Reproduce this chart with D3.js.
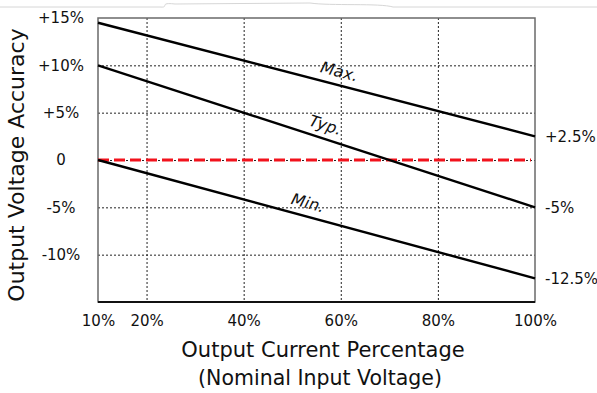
<!DOCTYPE html>
<html>
<head>
<meta charset="utf-8">
<script src="https://cdn.jsdelivr.net/npm/d3@7"></script>
<style>
  html, body { margin: 0; padding: 0; background: #fff; }
  svg { display: block; }
  text { font-family: "DejaVu Sans", sans-serif; fill: #111; }
</style>
</head>
<body>
<svg id="chart" width="597" height="393"></svg>
<script>
// Output current (% of rated) at the chart edges and grid positions
const currentDomain = [10, 100];
const xTicks = [10, 20, 40, 60, 80, 100];
const xTickLabels = ["10%", "20%", "40%", "60%", "80%", "100%"];

// Output voltage accuracy (%)
const accuracyDomain = [-15, 15];
const yTicks = [15, 10, 5, 0, -5, -10];
const yTickLabels = ["+15%", "+10%", "+5%", "0", "-5%", "-10%"];
const yGrid = [10, 5, 0, -5, -10];
const xGrid = [20, 40, 60, 80];

// Accuracy band: endpoints at 10% and 100% load
const seriesNames = ["Max.", "Typ.", "Min."];
const seriesStart = [14.5, 10, 0];
const seriesEnd = [2.5, -5, -12.5];
const endLabels = ["+2.5%", "-5%", "-12.5%"];
const labelAt = [59, 56, 52.5];     // load (%) where each curve name sits

const svg = d3.select("#chart");
const m = { left: 98, right: 535, top: 18, bottom: 302 };

const x = d3.scaleLinear().domain(currentDomain).range([m.left, m.right]);
const y = d3.scaleLinear().domain(accuracyDomain).range([m.bottom, m.top]);

// faint scan-edge line along the top
svg.append("path")
  .attr("d", "M0,7 L160,7 C170,8 158,2 175,4 L310,3 C330,6 380,3 393,7 L597,7")
  .attr("fill", "none").attr("stroke", "#d6d6d6").attr("stroke-width", 1);

// dotted grid
const grid = svg.append("g").attr("stroke", "#222").attr("stroke-width", 1)
  .attr("stroke-dasharray", "2,2");
grid.selectAll("line.h").data(yGrid).join("line").attr("class", "h")
  .attr("x1", m.left).attr("x2", m.right)
  .attr("y1", d => y(d) + 0.5).attr("y2", d => y(d) + 0.5);
grid.selectAll("line.v").data(xGrid).join("line").attr("class", "v")
  .attr("y1", m.top).attr("y2", m.bottom)
  .attr("x1", d => x(d) + 0.5).attr("x2", d => x(d) + 0.5);

// plot frame
svg.append("rect")
  .attr("x", m.left).attr("y", m.top)
  .attr("width", m.right - m.left).attr("height", m.bottom - m.top)
  .attr("fill", "none").attr("stroke", "#6a6a6a").attr("stroke-width", 1.5);
svg.append("line")
  .attr("x1", m.left).attr("x2", m.right)
  .attr("y1", m.bottom).attr("y2", m.bottom)
  .attr("stroke", "#111").attr("stroke-width", 2);

// nominal (0%) reference
svg.append("line")
  .attr("x1", x(10)).attr("x2", x(100) - 4)
  .attr("y1", y(0)).attr("y2", y(0))
  .attr("stroke", "#f2121c").attr("stroke-width", 3)
  .attr("stroke-dasharray", "11,5");

// accuracy curves
const line = d3.line().x(d => x(d[0])).y(d => y(d[1]));
seriesNames.forEach((name, i) => {
  const pts = [[currentDomain[0], seriesStart[i]], [currentDomain[1], seriesEnd[i]]];
  svg.append("path").datum(pts)
    .attr("d", line).attr("fill", "none")
    .attr("stroke", "#000").attr("stroke-width", 2.4);

  // curve name, laid along the line
  const angle = Math.atan2(y(seriesEnd[i]) - y(seriesStart[i]), x(currentDomain[1]) - x(currentDomain[0])) * 180 / Math.PI;
  const t = (labelAt[i] - currentDomain[0]) / (currentDomain[1] - currentDomain[0]);
  const v = seriesStart[i] + t * (seriesEnd[i] - seriesStart[i]);
  svg.append("text")
    .attr("transform", `translate(${x(labelAt[i])},${y(v)}) rotate(${angle})`)
    .attr("dy", -8)
    .attr("text-anchor", "middle")
    .attr("font-style", "italic")
    .attr("font-size", 16)
    .text(name);

  // end value label
  svg.append("text")
    .attr("x", x(100) + 10).attr("y", y(seriesEnd[i]))
    .attr("dy", "0.35em")
    .attr("font-size", 15)
    .text(endLabels[i]);
});

// axes tick labels
const xAxis = d3.axisBottom(x).tickValues(xTicks)
  .tickFormat((d, i) => xTickLabels[i]).tickSize(0).tickPadding(13);
svg.append("g").attr("transform", `translate(0,${m.bottom})`).call(xAxis)
  .call(g => g.select(".domain").remove())
  .call(g => g.selectAll("text").attr("font-size", 15).attr("font-family", null).attr("fill", "#111"));

const yAxis = d3.axisLeft(y).tickValues(yTicks)
  .tickFormat((d, i) => yTickLabels[i]).tickSize(0).tickPadding(0);
svg.append("g").attr("transform", "translate(61,0)").call(yAxis)
  .call(g => g.select(".domain").remove())
  .call(g => g.selectAll("text").attr("font-size", 15).attr("font-family", null)
    .attr("fill", "#111").attr("text-anchor", "middle"));

// axis titles
svg.append("text")
  .attr("x", 323).attr("y", 357)
  .attr("text-anchor", "middle").attr("font-size", 21)
  .text("Output Current Percentage");
svg.append("text")
  .attr("x", 320).attr("y", 385)
  .attr("text-anchor", "middle").attr("font-size", 20.5)
  .text("(Nominal Input Voltage)");
svg.append("text")
  .attr("transform", "translate(24,165) rotate(-90)")
  .attr("text-anchor", "middle").attr("font-size", 22)
  .text("Output Voltage Accuracy");
</script>
</body>
</html>
